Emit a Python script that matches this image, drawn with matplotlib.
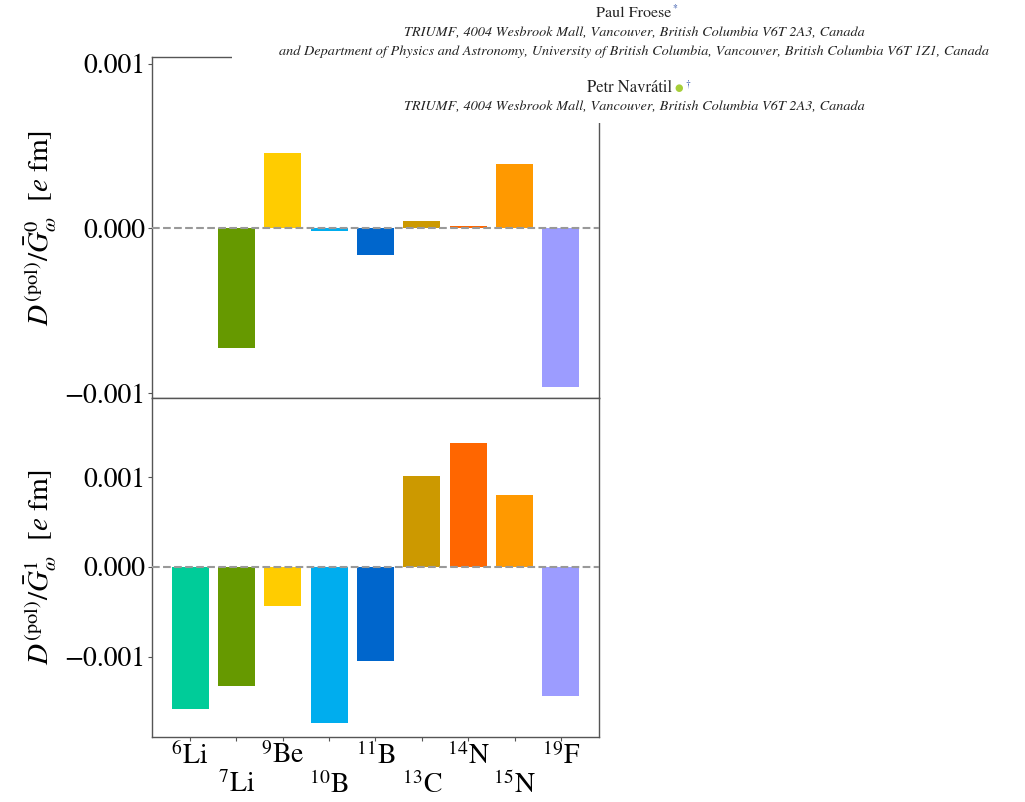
import matplotlib
matplotlib.use("Agg")
import matplotlib.pyplot as plt
from matplotlib.patches import Rectangle
from matplotlib.transforms import ScaledTranslation

plt.rcParams['font.family'] = ['STIXGeneral', 'DejaVu Serif']
plt.rcParams['mathtext.fontset'] = 'stix'

nuclei = [r"$^{6}$Li", r"$^{7}$Li", r"$^{9}$Be", r"$^{10}$B", r"$^{11}$B",
          r"$^{13}$C", r"$^{14}$N", r"$^{15}$N", r"$^{19}$F"]
colors = ["#00CC99", "#669900", "#FFCC00", "#00ADEE", "#0066CC",
          "#CC9900", "#FF6600", "#FF9900", "#9C9CFF"]
g0_values = [0.000003, -0.000726, 0.000461, -0.000018, -0.000159,
             0.000043, 0.000016, 0.000390, -0.000965]
g1_values = [-0.001578, -0.001322, -0.000431, -0.001733, -0.001043,
             0.001013, 0.001381, 0.000802, -0.001433]
yticks = [-0.001, 0.0, 0.001]
ytick_labels = ["\u22120.001", "0.000", "0.001"]

header_lines = [
    "TRIUMF, 4004 Wesbrook Mall, Vancouver, British Columbia V6T 2A3, Canada",
    "and Department of Physics and Astronomy, University of British Columbia, Vancouver, British Columbia V6T 1Z1, Canada",
    "TRIUMF, 4004 Wesbrook Mall, Vancouver, British Columbia V6T 2A3, Canada",
]

W, H = 1025, 802
fig = plt.figure(figsize=(W / 100, H / 100), dpi=100)

left = 151.7 / W
width = (599.3 - 151.7) / W
mid = (H - 398.0) / H
ax1 = fig.add_axes([left, mid, width, (H - 57.3) / H - mid])
ax2 = fig.add_axes([left, (H - 736.7) / H, width, mid - (H - 736.7) / H])

x = list(range(len(nuclei)))
spine_col = "#555555"

for ax, vals, ylim, sup in [(ax1, g0_values, (-0.00103, 0.00104), "0"),
                            (ax2, g1_values, (-0.00189, 0.00188), "1")]:
    ax.bar(x, vals, width=0.8, color=colors, zorder=2)
    ax.axhline(0, color="#999999", lw=1.5, ls="--", zorder=3)
    ax.set_xlim(-0.83, 8.83)
    ax.set_ylim(*ylim)
    ax.set_yticks(yticks)
    ax.set_yticklabels(ytick_labels)
    ax.tick_params(axis='y', labelsize=20, length=3, width=0.8,
                   color=spine_col, pad=1.5, direction='out')
    for s in ax.spines.values():
        s.set_color(spine_col)
        s.set_linewidth(1.0)
    ax.set_ylabel(r"$D^{(\mathrm{pol})}/\bar{G}^{%s}_{\omega}$  [$e$ fm]" % sup,
                  fontsize=21)
    ax.yaxis.set_label_coords(-0.207, 0.5)

ax1.set_xticks([])
ax2.set_xticks(x)
ax2.set_xticklabels(nuclei)
ax2.tick_params(axis='x', labelsize=20, length=3, width=0.8,
                color=spine_col, pad=1.0, direction='out')
for i, lab in enumerate(ax2.get_xticklabels()):
    if i % 2 == 1:
        lab.set_transform(lab.get_transform() +
                          ScaledTranslation(0, -0.29, fig.dpi_scale_trans))

# pasted paper header (white box over the top right)
fig.patches.append(Rectangle((232 / W, (H - 123) / H), (1010 - 232) / W, 123 / H,
                             transform=fig.transFigure, facecolor="white",
                             edgecolor="none", zorder=10))
cx = 634 / W
def fy(py):
    return (H - py) / H
fig.text(cx, fy(13), "Paul Froese", ha="center", va="center", fontsize=11.5,
         color="#222222", zorder=11)
fig.text(672 / W, fy(8), "*", ha="left", va="center", fontsize=7,
         color="#3355AA", zorder=11)
for yy, txt in zip([33, 52, 107], header_lines):
    fig.text(cx, fy(yy), txt, ha="center", va="center", fontsize=10.3,
             style="italic", color="#222222", zorder=11)
fig.text(630 / W, fy(88), "Petr Navrátil", ha="center", va="center",
         fontsize=12, color="#222222", zorder=11)
fig.text(679 / W, fy(88), "\u25CF", ha="center", va="center", fontsize=7,
         color="#A6CE39", family="DejaVu Sans", zorder=11)
fig.text(685 / W, fy(84), "\u2020", ha="left", va="center", fontsize=7,
         color="#3355AA", zorder=11)

fig.savefig("out.png", dpi=100)
